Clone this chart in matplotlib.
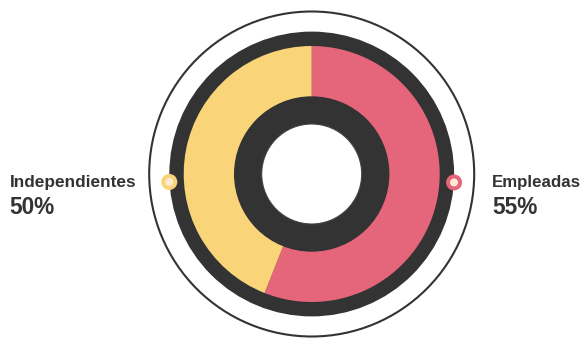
import numpy as np
import matplotlib.pyplot as plt
from matplotlib.patches import Circle

# data
labels = ["Empleadas", "Independientes"]
percents = [55, 50]
# share of the ring as drawn in the picture (pink / yellow)
ring_shares = [56, 44]
colors = ["#E5657A", "#F9D479"]

dark = "#333333"
cream = "#FCEBD3"

W, H = 581, 338
fig = plt.figure(figsize=(W / 100, H / 100), dpi=100)
ax = fig.add_axes([0, 0, 1, 1])

cx, cy = 311.7, H - 174

ax.add_patch(Circle((cx, cy), 162.5, fill=False, ec=dark, lw=1.5, zorder=1))
ax.add_patch(Circle((cx, cy), 141.7, color=dark, zorder=1))
ax.pie(ring_shares, colors=colors, startangle=90, counterclock=False,
       center=(cx, cy), radius=128,
       wedgeprops=dict(width=51, linewidth=0, zorder=2))
ax.add_patch(Circle((cx, cy), 77, color=dark, zorder=3))
ax.add_patch(Circle((cx, cy), 50, fc="white", ec="#444444", lw=0.8, zorder=4))

# marker dots on the ring edge
for ang, col in [(-3.4, colors[0]), (183.2, colors[1])]:
    a = np.deg2rad(ang)
    px, py = cx + 142.6 * np.cos(a), cy + 142.6 * np.sin(a)
    ax.add_patch(Circle((px, py), 7.3, color=col, zorder=5))
    ax.add_patch(Circle((px, py), 3.3, color=cream, zorder=6))

font = ["Liberation Sans", "DejaVu Sans"]
ax.text(9.5, H - 187.3, labels[1], fontsize=12.4, fontweight="bold", color=dark,
        family=font, ha="left", va="baseline")
ax.text(9, H - 213.7, f"{percents[1]}%", fontsize=16.3, fontweight="bold",
        color=dark, family=font, ha="left", va="baseline")
ax.text(492, H - 187.3, labels[0], fontsize=12.2, fontweight="bold", color=dark,
        family=font, ha="left", va="baseline")
ax.text(492, H - 213.7, f"{percents[0]}%", fontsize=16.3, fontweight="bold",
        color=dark, family=font, ha="left", va="baseline")

ax.set_xlim(0, W)
ax.set_ylim(0, H)
ax.set_aspect("equal")
ax.axis("off")

fig.savefig("out.png", dpi=100, facecolor="white")
